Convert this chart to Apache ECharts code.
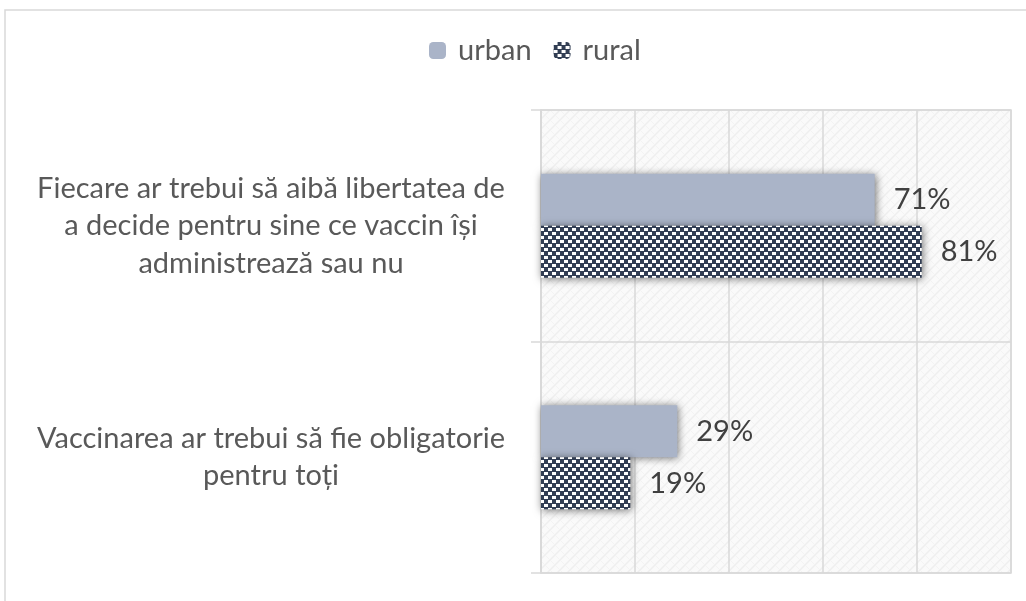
<!DOCTYPE html>
<html>
<head>
<meta charset="utf-8">
<script src="https://cdn.jsdelivr.net/npm/echarts@6/dist/echarts.min.js"></script>
<style>
  html, body { margin: 0; padding: 0; background: #fff; }
  #chart { width: 1026px; height: 601px; }
</style>
</head>
<body>
<div id="chart"></div>
<script>
const categories = [
  'Fiecare ar trebui să aibă libertatea de\na decide pentru sine ce vaccin își\nadministrează sau nu',
  'Vaccinarea ar trebui să fie obligatorie\npentru toți'
];
const seriesNames = ['urban', 'rural'];
const urbanValues = [71, 29];
const ruralValues = [81, 19];

const FONT = 'Lato';

// checker pattern for the rural bars
const makeChecker = () => {
  const c = document.createElement('canvas');
  c.width = 8; c.height = 8;
  const ctx = c.getContext('2d');
  ctx.fillStyle = '#323e54';
  ctx.fillRect(0, 0, 8, 8);
  ctx.fillStyle = '#ffffff';
  ctx.fillRect(0, 0, 4, 3);
  ctx.fillRect(4, 4, 4, 3);
  return c;
};

// light texture for the plot area
const makeTexture = () => {
  const c = document.createElement('canvas');
  c.width = 10; c.height = 10;
  const ctx = c.getContext('2d');
  ctx.fillStyle = '#fafafa';
  ctx.fillRect(0, 0, 10, 10);
  ctx.strokeStyle = '#efefef';
  ctx.lineWidth = 1.5;
  ctx.beginPath();
  ctx.moveTo(0, 10); ctx.lineTo(10, 0);
  ctx.moveTo(-5, 5); ctx.lineTo(5, -5);
  ctx.moveTo(5, 15); ctx.lineTo(15, 5);
  ctx.stroke();
  ctx.strokeStyle = '#f3f3f3';
  ctx.lineWidth = 1;
  ctx.beginPath();
  ctx.moveTo(0, 0); ctx.lineTo(10, 10);
  ctx.stroke();
  return c;
};

const checker = { image: makeChecker(), repeat: 'repeat' };
const texture = { image: makeTexture(), repeat: 'repeat' };

const chart = echarts.init(document.getElementById('chart'), null, { renderer: 'canvas' });

const barShadow = {
  shadowBlur: 8,
  shadowColor: 'rgba(0,0,0,0.55)',
  shadowOffsetX: 1,
  shadowOffsetY: 1
};

const valueLabel = {
  show: true,
  position: 'right',
  distance: 19,
  formatter: '{c}%',
  color: '#404040',
  fontFamily: FONT,
  fontSize: 29
};

chart.setOption({
  animation: false,
  backgroundColor: '#ffffff',
  graphic: [{
    type: 'rect',
    shape: { x: 5, y: 10, width: 1100, height: 700 },
    style: { fill: 'none', stroke: '#d9d9d9', lineWidth: 1.5 },
    silent: true
  }],
  legend: {
    top: 31,
    left: 424,
    itemWidth: 17,
    itemHeight: 17,
    itemGap: 22,
    textStyle: { color: '#595959', fontFamily: FONT, fontSize: 29, padding: [0, 0, 0, 7] },
    data: seriesNames
  },
  grid: {
    left: 541,
    right: 15,
    top: 110,
    bottom: 28,
    show: true,
    backgroundColor: texture,
    borderColor: '#d9d9d9',
    borderWidth: 1.5
  },
  xAxis: {
    type: 'value',
    min: 0,
    max: 100,
    interval: 20,
    axisLabel: { show: false },
    axisLine: { show: false },
    axisTick: { show: false },
    splitLine: { lineStyle: { color: '#d9d9d9', width: 1.5 } }
  },
  yAxis: {
    type: 'category',
    inverse: true,
    data: categories,
    axisLine: { show: true, lineStyle: { color: '#d9d9d9', width: 1.5 } },
    axisTick: { show: true, length: 10, lineStyle: { color: '#d9d9d9', width: 1.5 } },
    splitLine: { show: true, lineStyle: { color: '#d9d9d9', width: 1.5 } },
    axisLabel: {
      margin: 270,
      align: 'center',
      color: '#595959',
      fontFamily: FONT,
      fontSize: 29,
      lineHeight: 37.5
    }
  },
  series: [
    {
      name: 'urban',
      type: 'bar',
      data: urbanValues,
      barWidth: 52,
      barGap: '0%',
      itemStyle: Object.assign({ color: '#aab4c8' }, barShadow),
      label: valueLabel
    },
    {
      name: 'rural',
      type: 'bar',
      data: ruralValues,
      barWidth: 52,
      barGap: '0%',
      itemStyle: Object.assign({ color: checker }, barShadow),
      label: valueLabel
    }
  ]
});
</script>
</body>
</html>
